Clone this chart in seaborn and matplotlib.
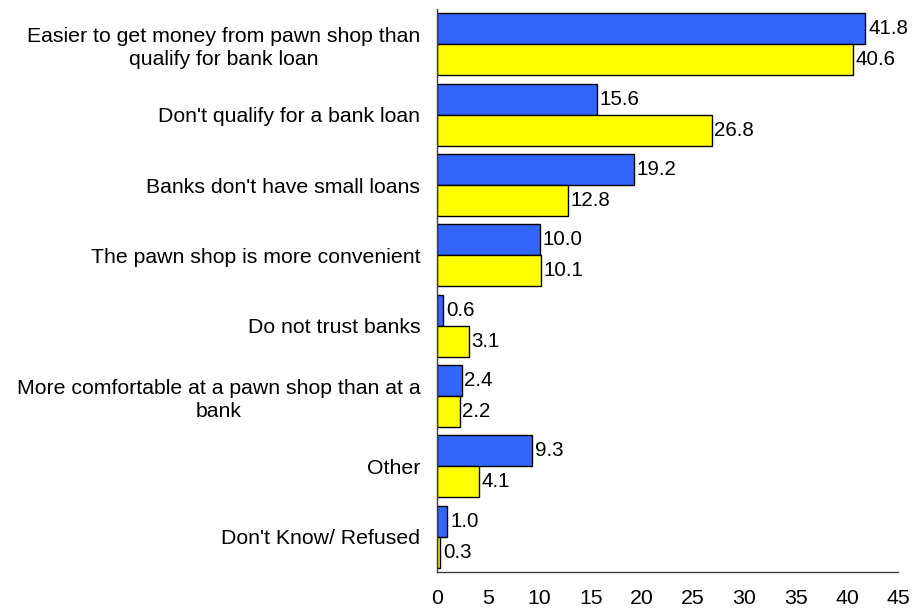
import matplotlib
matplotlib.use("Agg")
import matplotlib.pyplot as plt
import seaborn as sns
import pandas as pd

reasons = [
    "Easier to get money from pawn shop than\nqualify for bank loan",
    "Don't qualify for a bank loan",
    "Banks don't have small loans",
    "The pawn shop is more convenient",
    "Do not trust banks",
    "More comfortable at a pawn shop than at a\nbank",
    "Other",
    "Don't Know/ Refused",
]
survey_a = [41.8, 15.6, 19.2, 10.0, 0.6, 2.4, 9.3, 1.0]
survey_b = [40.6, 26.8, 12.8, 10.1, 3.1, 2.2, 4.1, 0.3]
groups = ["Survey A", "Survey B"]
xticks = [0, 5, 10, 15, 20, 25, 30, 35, 40, 45]

df = pd.DataFrame({
    "reason": reasons * 2,
    "pct": survey_a + survey_b,
    "group": [groups[0]] * len(reasons) + [groups[1]] * len(reasons),
})

sns.set_style("white")
plt.rcParams["font.family"] = ["Liberation Sans", "DejaVu Sans"]
FS = 15.3

fig = plt.figure(figsize=(9.24, 6.11), dpi=100)
ax = fig.add_axes([0.473, 0.064, 0.499, 0.921])

sns.barplot(
    data=df, y="reason", x="pct", hue="group", order=reasons, hue_order=groups,
    palette=["#3366FF", "#FFFF00"], saturation=1, edgecolor="black", linewidth=1.0,
    width=0.88, orient="h", legend=False, ax=ax,
)

for cont in ax.containers:
    labels = [f"{v:.1f}" for v in cont.datavalues]
    ax.bar_label(cont, labels=labels, padding=2, fontsize=14.8, color="black",
                 bbox=dict(facecolor="white", edgecolor="none", pad=0.3))

ax.set_xlim(0, 45)
ax.set_ylim(len(reasons) - 0.5, -0.5)
ax.set_xticks(xticks)
ax.set_xticklabels([str(t) for t in xticks], fontsize=FS, color="black")
ax.set_xlabel("")
ax.set_ylabel("")

# category labels sit between the boundary ticks
ax.set_yticks(range(len(reasons)))
ax.set_yticklabels(reasons, fontsize=FS, color="black", ha="right",
                   multialignment="center", linespacing=1.25)
ax.tick_params(axis="y", length=0, pad=12)
ax.set_yticks([i - 0.5 for i in range(len(reasons) + 1)], minor=True)
ax.tick_params(axis="y", which="minor", length=6, width=1, color="#404040", direction="out")

ax.tick_params(axis="x", direction="in", length=6, width=1, color="#404040", pad=12)

for side in ["top", "right"]:
    ax.spines[side].set_visible(False)
for side in ["left", "bottom"]:
    ax.spines[side].set_color("#404040")
    ax.spines[side].set_linewidth(1.0)

fig.savefig("out.png", dpi=100)
